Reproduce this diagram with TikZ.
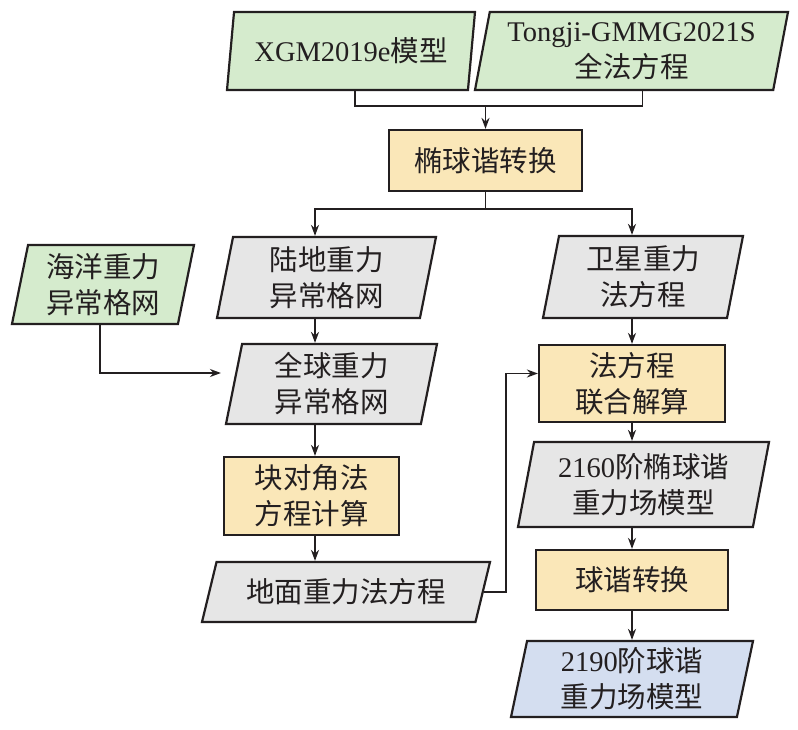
\documentclass[tikz,border=0pt]{standalone}
\usepackage{fontspec}
\setmainfont{Noto Sans CJK SC}
\newfontfamily\latin{Liberation Serif}
\usetikzlibrary{shapes.geometric,arrows.meta,calc}

\definecolor{lineGray}{HTML}{231F20}
\definecolor{inGreen}{HTML}{D5EBCD}
\definecolor{stepYellow}{HTML}{FAE7B8}
\definecolor{dataGray}{HTML}{E6E6E6}
\definecolor{outBlue}{HTML}{D4DEF0}

\def \lineWidth {2.2pt}

\tikzset{
  box/.style={draw=lineGray, line width=\lineWidth, align=center, inner sep=1pt,
    text=lineGray, font=\fontsize{28.5}{36}\selectfont},
  slant/.style={box, trapezium, trapezium left angle=76, trapezium right angle=104,
    trapezium stretches body},
  calcbox/.style={box, rectangle},
  link/.style={draw=lineGray, line width=1.9pt},
  flow/.style={link, -{Stealth[length=11pt,width=8pt]}},
}

\begin{document}
\begin{tikzpicture}[x=1pt, y=-1pt]
  \useasboundingbox (0,0) rectangle (798,730);

  % input models
  \node[slant, fill=inGreen, minimum width=248, minimum height=78] (xgm) at (351,51) {{\latin XGM2019e}模型};
  \node[slant, fill=inGreen, minimum width=313, minimum height=78] (tongji) at (631.5,51) {{\latin Tongji-GMMG2021S}\\全法方程};
  \node[calcbox, fill=stepYellow, minimum width=193, minimum height=61] (ellconv) at (485.5,160.5) {椭球谐转换};

  % left branch
  \node[slant, fill=inGreen, minimum width=182, minimum height=79] (ocean) at (103,284.5) {海洋重力\\异常格网};
  \node[slant, fill=dataGray, minimum width=219, minimum height=81] (land) at (326.5,277.5) {陆地重力\\异常格网};
  \node[slant, fill=dataGray, minimum width=211, minimum height=80] (global) at (331.5,384) {全球重力\\异常格网};
  \node[calcbox, fill=stepYellow, minimum width=175, minimum height=78] (block) at (311.5,496) {块对角法\\方程计算};
  \node[slant, fill=dataGray, trapezium left angle=63, trapezium right angle=117,
    minimum width=288, minimum height=60] (ground) at (346,592) {地面重力法方程};

  % right branch
  \node[slant, fill=dataGray, minimum width=200, minimum height=82] (sat) at (643,277) {卫星重力\\法方程};
  \node[calcbox, fill=stepYellow, minimum width=186, minimum height=77] (joint) at (632,383.5) {法方程\\联合解算};
  \node[slant, fill=dataGray, minimum width=251, minimum height=85] (ell2160) at (643.5,484.5) {{\latin 2160}阶椭球谐\\重力场模型};
  \node[calcbox, fill=stepYellow, minimum width=192, minimum height=60] (sphconv) at (632,580) {球谐转换};
  \node[slant, fill=outBlue, minimum width=242, minimum height=76] (sph2190) at (632,679) {{\latin 2190}阶球谐\\重力场模型};

  % connectors
  \coordinate (colL) at (315,0);
  \coordinate (colR) at (632,0);
  \coordinate (merge) at ($(ellconv.north)+(0,-23)$);
  \coordinate (split) at ($(ellconv.south)+(0,17)$);

  \draw[link] ([xshift=4pt]xgm.south) |- (merge) -| ([xshift=11pt]tongji.south);
  \draw[flow] (merge) -- (ellconv.north);
  \draw[link] (ellconv.south) -- (split);
  \draw[flow] (split) -| (land.north -| colL);
  \draw[flow] (split) -| (sat.north -| colR);

  \draw[flow] (land.south -| colL) -- (global.north -| colL);
  \draw[flow] (global.south -| colL) -- (block.north -| colL);
  \draw[flow] (block.south -| colL) -- (ground.north -| colL);
  \draw[flow] ([xshift=-3pt]ocean.south) |- ([xshift=-12pt,yshift=11pt]global.west);

  \draw[flow] (ground.east) -- ++(22,0) |- ([yshift=10pt]joint.west);
  \draw[flow] (sat.south -| colR) -- (joint.north);
  \draw[flow] (joint.south) -- (ell2160.north -| colR);
  \draw[flow] (ell2160.south -| colR) -- (sphconv.north);
  \draw[flow] (sphconv.south) -- (sph2190.north);

\end{tikzpicture}
\end{document}
